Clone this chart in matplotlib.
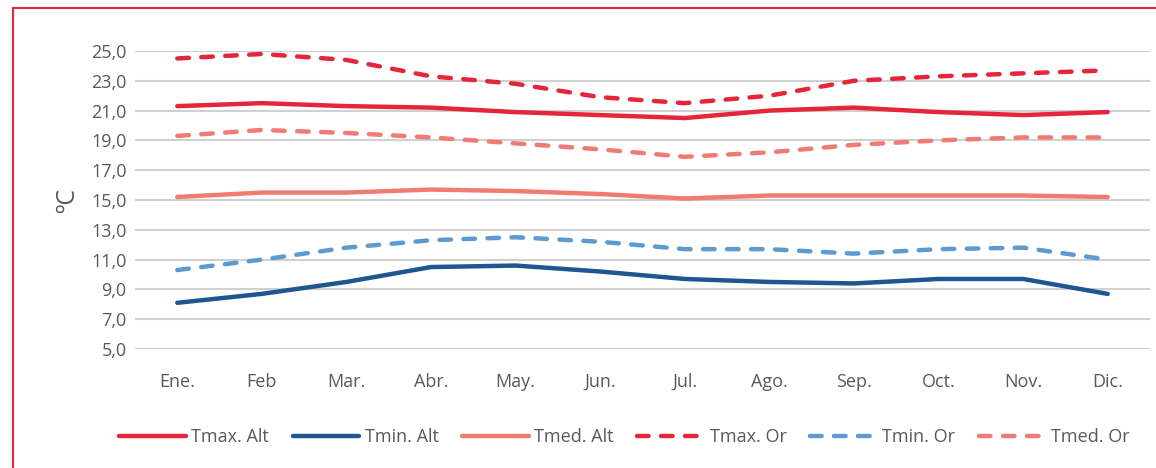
import numpy
from matplotlib import pyplot
from matplotlib.patches import Rectangle

Months = ['Ene.', 'Feb', 'Mar.', 'Abr.', 'May.', 'Jun.', 'Jul.', 'Ago.', 'Sep.', 'Oct.', 'Nov.', 'Dic.']
TmaxAlt = [21.3, 21.5, 21.3, 21.2, 20.9, 20.7, 20.5, 21.0, 21.2, 20.9, 20.7, 20.9]
TminAlt = [8.1, 8.7, 9.5, 10.5, 10.6, 10.2, 9.7, 9.5, 9.4, 9.7, 9.7, 8.7]
TmedAlt = [15.2, 15.5, 15.5, 15.7, 15.6, 15.4, 15.1, 15.3, 15.3, 15.3, 15.3, 15.2]
TmaxOr = [24.5, 24.8, 24.4, 23.3, 22.8, 21.9, 21.5, 22.0, 23.0, 23.3, 23.5, 23.7]
TminOr = [10.3, 11.0, 11.8, 12.3, 12.5, 12.2, 11.7, 11.7, 11.4, 11.7, 11.8, 11.0]
TmedOr = [19.3, 19.7, 19.5, 19.2, 18.8, 18.4, 17.9, 18.2, 18.7, 19.0, 19.2, 19.2]
Labels = ['Tmax. Alt', 'Tmin. Alt', 'Tmed. Alt', 'Tmax. Or', 'Tmin. Or', 'Tmed. Or']

Red = '#E5253A'
DarkBlue = '#1F5591'
Salmon = '#F07B72'
Blue = '#5B9BD0'
Gray = '#595959'

pyplot.rcParams['font.family'] = ['Open Sans', 'DejaVu Sans']

fig = pyplot.figure(figsize=(11.56, 4.68), dpi=100)
# Red chart frame (partly cut off on the right and bottom).
fig.patches.append(Rectangle((13 / 1156., -0.05), 1.1, 1 - 8 / 468. + 0.05, transform=fig.transFigure,
                             fill=False, edgecolor=Red, linewidth=1.5))

ax = fig.add_axes([135 / 1156., 119 / 468., 1015 / 1156., 298 / 468.])
x = numpy.arange(len(Months))
series = [(TmaxAlt, Red, '-'), (TminAlt, DarkBlue, '-'), (TmedAlt, Salmon, '-'),
          (TmaxOr, Red, '--'), (TminOr, Blue, '--'), (TmedOr, Salmon, '--')]
for (vals, color, ls), label in zip(series, Labels):
  line, = ax.plot(x, vals, ls, color=color, linewidth=3.2, label=label,
                  solid_capstyle='round', dash_capstyle='round')
  if ls == '--':
    line.set_dashes((2.6, 2.8))

ax.set_xlim(-0.5, len(Months) - 0.5)
ax.set_ylim(5, 25)
ax.set_yticks(numpy.arange(5, 26, 2))
ax.set_yticklabels(['{:.1f}'.format(v).replace('.', ',') for v in numpy.arange(5, 26, 2)])
ax.set_xticks(x)
ax.set_xticklabels(Months)
ax.tick_params(length=0, labelsize=13, colors=Gray, pad=6)
ax.tick_params(axis='x', pad=17)
for s in ax.spines.values():
  s.set_visible(False)
ax.yaxis.grid(color='#D0D0D0', linewidth=1.5)
ax.set_axisbelow(True)
ax.set_ylabel('ºC', fontsize=18, color=Gray, labelpad=8)

fig.legend(loc='center', bbox_to_anchor=(0.54, 0.066), ncol=6, frameon=False, fontsize=13,
           handlelength=3.7, handletextpad=0.3, columnspacing=1.3, labelcolor=Gray)

fig.savefig('out.png', dpi=100)
